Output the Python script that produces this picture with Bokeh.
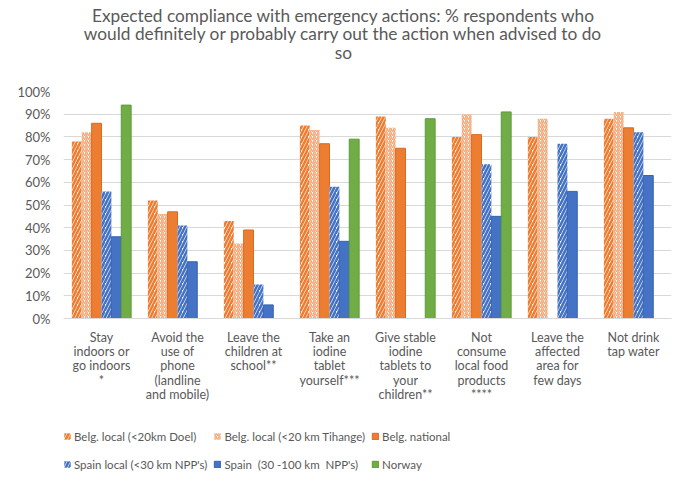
from bokeh.plotting import figure
from bokeh.layouts import column
from bokeh.models import ColumnDataSource, FactorRange, Legend, LegendItem, NumeralTickFormatter, Label
from bokeh.transform import dodge
from bokeh.embed import file_html
from bokeh.resources import INLINE

categories = [
    "Stay\nindoors or\ngo indoors\n*",
    "Avoid the\nuse of\nphone\n(landline\nand mobile)",
    "Leave the\nchildren at\nschool**",
    "Take an\niodine\ntablet\nyourself***",
    "Give stable\niodine\ntablets to\nyour\nchildren**",
    "Not\nconsume\nlocal food\nproducts\n****",
    "Leave the\naffected\narea for\nfew days",
    "Not drink\ntap water",
]

belg_doel = [0.78, 0.52, 0.43, 0.85, 0.89, 0.80, 0.80, 0.88]
belg_tihange = [0.82, 0.46, 0.33, 0.83, 0.84, 0.90, 0.88, 0.91]
belg_national = [0.86, 0.47, 0.39, 0.77, 0.75, 0.81, None, 0.84]
spain_local = [0.56, 0.41, 0.15, 0.58, None, 0.68, 0.77, 0.82]
spain = [0.36, 0.25, 0.06, 0.34, None, 0.45, 0.56, 0.63]
norway = [0.94, None, None, 0.79, 0.88, 0.91, None, None]

series_names = [
    "Belg. local (<20km Doel)",
    "Belg. local (<20 km Tihange)",
    "Belg. national",
    "Spain local (<30 km NPP's)",
    "Spain  (30 -100 km  NPP's)",
    "Norway",
]

title_lines = [
    "Expected compliance with emergency actions: % respondents who",
    "would definitely or probably carry out the action when advised to do",
    "so",
]

ORANGE = "#ED7D31"
BLUE = "#4472C4"
GREEN = "#70AD47"
TXT = "#595959"
FONT = "Lato"
W = 679
FRAME_W = 608

# ---- title strip (its frame is aligned with the chart frame by the column layout) ----
tf = figure(width=W, height=80, x_range=(0, FRAME_W), y_range=(0, 80),
            x_axis_location=None, y_axis_location=None,
            output_backend="svg", toolbar_location=None, min_border=0)
tf.outline_line_color = None
tf.grid.visible = False
title_y = [65, 47, 28.5]
for line, ty in zip(title_lines, title_y):
    tf.add_layout(Label(x=280, y=ty, text=line, text_align="center", text_baseline="middle",
                        text_font=FONT, text_font_size="17.3px", text_color=TXT))

# ---- main chart ----
p = figure(
    x_range=FactorRange(*categories, range_padding=0),
    y_range=(0, 1.0),
    frame_width=FRAME_W, frame_height=227,
    output_backend="svg", toolbar_location=None,
    min_border_left=63, min_border_right=8, min_border_top=11, min_border_bottom=92,
)
p.outline_line_color = None
p.background_fill_color = "white"

bw = 0.13
offsets = [-2.5 * bw, -1.5 * bw, -0.5 * bw, 0.5 * bw, 1.5 * bw, 2.5 * bw]
all_series = [belg_doel, belg_tihange, belg_national, spain_local, spain, norway]
styles = [
    dict(fill_color="white", line_color=None, hatch_pattern="/", hatch_color=ORANGE, hatch_weight=2.6, hatch_scale=7),
    dict(fill_color="white", line_color=None, hatch_pattern="/", hatch_color="#F4A97A", hatch_weight=1.6, hatch_scale=4),
    dict(fill_color=ORANGE, line_color="#D86B24", line_width=1),
    dict(fill_color="white", line_color=None, hatch_pattern="/", hatch_color=BLUE, hatch_weight=2.6, hatch_scale=7),
    dict(fill_color=BLUE, line_color="#3A63AE", line_width=1),
    dict(fill_color=GREEN, line_color="#5E9A3A", line_width=1),
]

sources = []
for name, vals, off, st in zip(series_names, all_series, offsets, styles):
    xs = [c for c, v in zip(categories, vals) if v is not None]
    ys = [v for v in vals if v is not None]
    src = ColumnDataSource(dict(x=xs, top=ys))
    sources.append(src)
    p.vbar(x=dodge("x", off, range=p.x_range), top="top", width=bw, source=src, **st)

p.xgrid.grid_line_color = None
p.ygrid.grid_line_color = "#D9D9D9"
p.ygrid.grid_line_width = 1

p.yaxis.formatter = NumeralTickFormatter(format="0%")
p.yaxis.ticker = [i / 10 for i in range(11)]
p.yaxis.axis_line_color = None
p.yaxis.major_tick_line_color = None
p.yaxis.minor_tick_line_color = None
p.yaxis.major_label_text_font = FONT
p.yaxis.major_label_text_font_size = "13px"
p.yaxis.major_label_text_color = TXT
p.yaxis.major_label_standoff = 7

p.xaxis.axis_line_color = "#D9D9D9"
p.xaxis.major_tick_line_color = None
p.xaxis.minor_tick_line_color = None
p.xaxis.major_label_text_font = FONT
p.xaxis.major_label_text_font_size = "12.5px"
p.xaxis.major_label_text_color = TXT
p.xaxis.major_label_text_line_height = 0.96
p.xaxis.major_label_standoff = 5

# ---- legend strip: same series, drawn out of view so that only the legend shows ----
leg = figure(width=W, height=76, x_range=FactorRange(*categories, range_padding=0), y_range=(2, 3),
             x_axis_location=None, y_axis_location=None,
             output_backend="svg", toolbar_location=None, min_border=0)
leg.outline_line_color = None
leg.grid.visible = False
renderers = []
for src, off, st in zip(sources, offsets, styles):
    renderers.append(leg.vbar(x=dodge("x", off, range=leg.x_range), top="top", width=bw, source=src, **st))
# column-major fill: row 1 = Belgian series, row 2 = Spain / Norway
order = [0, 3, 1, 4, 2, 5]
items = [LegendItem(label=series_names[i], renderers=[renderers[i]]) for i in order]
legend = Legend(items=items, ncols=3, location=(0, 11),
                label_text_font=FONT, label_text_font_size="11.5px", label_text_color=TXT,
                glyph_width=8, glyph_height=8, label_standoff=3, spacing=6, label_height=22,
                border_line_color=None, background_fill_alpha=0, margin=0, padding=0)
leg.add_layout(legend, "center")

layout = column(tf, p, leg, spacing=0)
open("out.html", "w").write(file_html(layout, INLINE))
